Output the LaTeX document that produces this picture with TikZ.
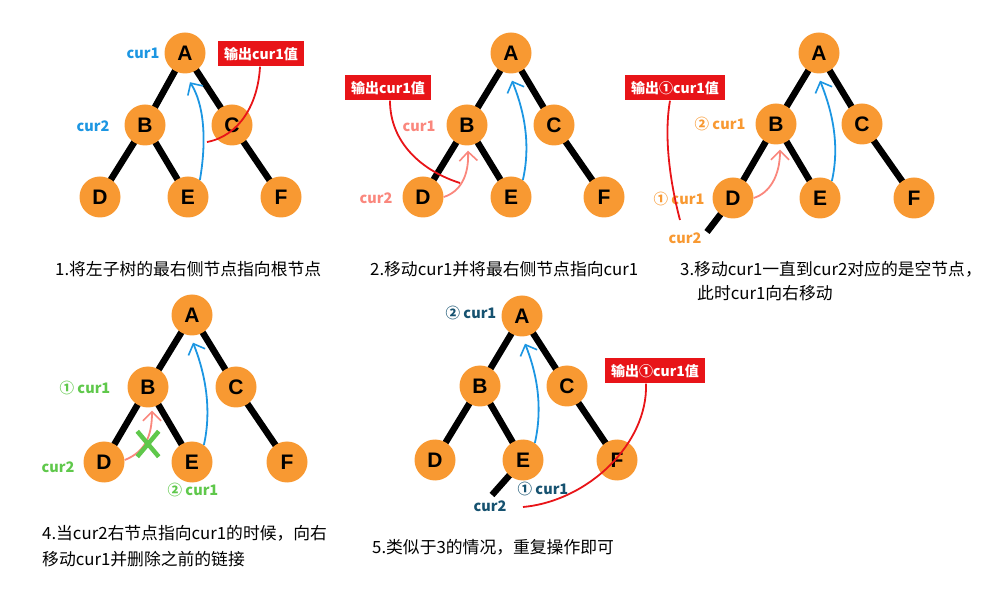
\documentclass[tikz,border=0pt]{standalone}
\usepackage{fontspec}
\setmainfont{Liberation Sans}
\newfontfamily\cjk{Noto Sans CJK SC}
\usetikzlibrary{arrows.meta,shapes.misc}
\pgfdeclarelayer{bg}
\pgfsetlayers{bg,main}
\definecolor{tnode}{RGB}{248,153,50}
\definecolor{cblue}{RGB}{28,150,226}
\definecolor{cred}{RGB}{232,20,24}
\definecolor{cpink}{RGB}{250,135,125}
\definecolor{cgreen}{RGB}{95,200,75}
\definecolor{cteal}{RGB}{22,82,112}
\tikzset{
  tn/.style={circle, fill=tnode, minimum size=41pt, inner sep=0pt, font=\fontsize{21}{21}\selectfont\bfseries},
  treeedge/.style={line width=6.5pt, black},
  ptr/.style={line width=1.8pt, -{Straight Barb[length=9pt,width=18pt,line width=1.6pt]}},
  lbl/.style={font=\cjk\fontsize{14.5}{14.5}\selectfont\bfseries, inner sep=0pt},
  outbox/.style={fill=cred, text=white, font=\cjk\fontsize{14}{14}\selectfont\bfseries, inner xsep=6pt, minimum height=25pt},
  redline/.style={cred, line width=1.8pt},
  captext/.style={font=\cjk\fontsize{16.8}{16.8}\selectfont, anchor=west, inner sep=0pt}
}
\newcommand\drawtree[7]{%
  \node[tn] (A#1) at (#2) {A};
  \node[tn] (B#1) at (#3) {B};
  \node[tn] (C#1) at (#4) {C};
  \node[tn] (D#1) at (#5) {D};
  \node[tn] (E#1) at (#6) {E};
  \node[tn] (F#1) at (#7) {F};
  \begin{pgfonlayer}{bg}
    \draw[treeedge] (A#1.center) -- (B#1.center);
    \draw[treeedge] (A#1.center) -- (C#1.center);
    \draw[treeedge] (B#1.center) -- (D#1.center);
    \draw[treeedge] (B#1.center) -- (E#1.center);
    \draw[treeedge] (C#1.center) -- (F#1.center);
  \end{pgfonlayer}
}
\begin{document}
\begin{tikzpicture}[x=1pt,y=-1pt]
\useasboundingbox (0,0) rectangle (999,601);

% ---------- panel 1
\drawtree{1}{185,53}{145,125}{232,125}{100,197}{188,197}{281,197}
\node[lbl, text=cblue] (p1c1) at (143,53) {cur1};
\node[lbl, text=cblue] (p1c2) at (93,126) {cur2};
\draw[ptr, cblue] (E1.55) .. controls +(7,-40) and +(14,22) .. ([xshift=5pt,yshift=-8.5pt]A1.south);
\node[outbox] (bx1) at (261,54) {输出cur1值};
\coordinate (r1) at (207,142);
\draw[redline] ([xshift=-1pt]bx1.south) .. controls +(-2,38) and +(32,-6) .. (r1);

% ---------- panel 2
\drawtree{2}{511,53}{467,125}{554,125}{423,197}{511,197}{604,197}
\node[lbl, text=cpink] (p2c1) at (419,126) {cur1};
\node[lbl, text=cpink] (p2c2) at (376,198) {cur2};
\node[outbox] (bx2) at (388,88) {输出cur1值};
\coordinate (r2) at (460,183);
\draw[redline] ([xshift=2pt]bx2.south) .. controls +(0,42) and +(-38,-12) .. (r2);
\draw[ptr, cpink] (D2.east) .. controls +(16,-5) and +(1,26) .. ([xshift=1pt,yshift=-5pt]B2.south);
\draw[ptr, cblue] (E2.55) .. controls +(9,-40) and +(10,25) .. ([xshift=1pt,yshift=-7pt]A2.south);

% ---------- panel 3
\drawtree{3}{819,53}{776,124}{862,124}{733,198}{820,198}{914,198}
\coordinate (n3) at (707,232);
\begin{pgfonlayer}{bg}
  \draw[treeedge] (D3.center) -- (n3);
\end{pgfonlayer}
\node[lbl, text=tnode] (p3c1b) at (720,124) {② cur1};
\node[lbl, text=tnode] (p3c1a) at (679,199) {① cur1};
\node[lbl, text=tnode] (p3c2) at (685,238) {cur2};
\node[outbox] (bx3) at (675,88) {输出①cur1值};
\coordinate (r3) at (680,220);
\draw[redline] ([xshift=-5pt]bx3.south) .. controls +(-7,40) and +(-8,-30) .. (r3);
\draw[ptr, cpink] (D3.east) .. controls +(16,-5) and +(0,26) .. ([xshift=4pt,yshift=-5pt]B3.south);
\draw[ptr, cblue] (E3.55) .. controls +(9,-40) and +(10,25) .. ([xshift=1pt,yshift=-7pt]A3.south);

% ---------- panel 4
\drawtree{4}{192,315}{148,387}{236,387}{104,462}{192,462}{287,462}
\node[lbl, text=cgreen] (p4c1a) at (85,388) {① cur1};
\node[lbl, text=cgreen] (p4c2) at (58,467) {cur2};
\node[lbl, text=cgreen] (p4c1b) at (193,490) {② cur1};
\draw[ptr, cpink] ([yshift=2pt]D4.east) .. controls +(20,-8) and +(0,26) .. ([xshift=4pt,yshift=-3pt]B4.south);
\node[cross out, draw=cgreen, line width=4.5pt, minimum width=17pt, minimum height=21pt, inner sep=0pt] (x4) at (148,444) {};
\draw[ptr, cblue] (E4.55) .. controls +(9,-40) and +(10,25) .. ([xshift=1pt,yshift=-7pt]A4.south);

% ---------- panel 5
\drawtree{5}{522,316}{480,386}{567,386}{435,460}{523,460}{617,460}
\coordinate (n5) at (492,495);
\begin{pgfonlayer}{bg}
  \draw[treeedge] (E5.center) -- (n5);
\end{pgfonlayer}
\node[lbl, text=cteal] (p5c1b) at (471,313) {② cur1};
\node[lbl, text=cteal] (p5c1a) at (543,489) {① cur1};
\node[lbl, text=cteal] (p5c2) at (490,506) {cur2};
\draw[ptr, cblue] (E5.55) .. controls +(9,-40) and +(10,25) .. ([xshift=3pt,yshift=-7pt]A5.south);
\node[outbox] (bx5) at (655,371) {输出①cur1值};
\coordinate (r5) at (523,507);
\draw[redline] ([xshift=-9pt]bx5.south) .. controls +(2,60) and +(65,-6) .. (r5);

% ---------- captions
\node[captext] (cap1) at (55,269) {1.将左子树的最右侧节点指向根节点};
\node[captext] (cap2) at (370,269) {2.移动cur1并将最右侧节点指向cur1};
\node[captext] (cap3a) at (680,269) {3.移动cur1一直到cur2对应的是空节点，};
\node[captext] (cap3b) at (697,293) {此时cur1向右移动};
\node[captext] (cap4a) at (42,533) {4.当cur2右节点指向cur1的时候，向右};
\node[captext] (cap4b) at (42,559) {移动cur1并删除之前的链接};
\node[captext] (cap5) at (372,547) {5.类似于3的情况，重复操作即可};
\end{tikzpicture}
\end{document}
